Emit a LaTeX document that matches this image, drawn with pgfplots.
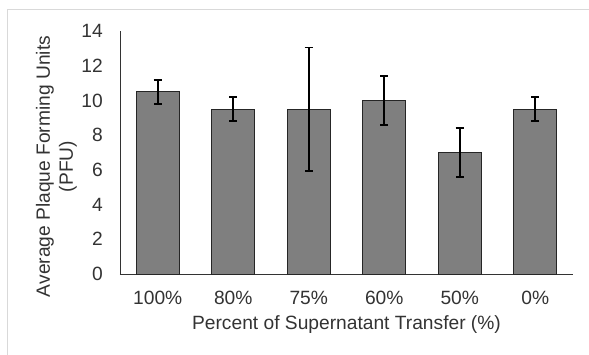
\documentclass[border=0pt]{standalone}
\usepackage{pgfplots}
\pgfplotsset{compat=1.18}
\usepackage{fontspec}
\setmainfont{Liberation Sans}
\definecolor{barfill}{HTML}{7F7F7F}
\definecolor{frame}{HTML}{D9D9D9}
\definecolor{txt}{HTML}{333333}
\begin{document}
\fontsize{19.2}{23}\selectfont
\begin{tikzpicture}
\useasboundingbox (-120pt,-80pt) rectangle (469pt,274pt);
\draw[frame, line width=1pt] (-112pt,-90pt) -- (-112pt,264pt) -- (480pt,264pt);
\begin{axis}[
  at={(0pt,0pt)}, anchor=south west,
  scale only axis, width=453pt, height=243pt,
  xmin=-0.5, xmax=5.5, ymin=0, ymax=14,
  axis lines*=left,
  axis line style={black!80, line width=0.9pt},
  major tick length=0pt,
  ytick={0,2,...,14},
  xtick={0,1,2,3,4,5},
  xticklabels={100\%,80\%,75\%,60\%,50\%,0\%},
  /pgf/number format/assume math mode=true,
  tick label style={font=\fontsize{19.2}{23}\selectfont, text=txt},
  yticklabel style={anchor=east, inner sep=0pt, xshift=-17pt},
  xticklabel style={anchor=north, inner sep=0pt, yshift=-17pt},
  xlabel={Percent of Supernatant Transfer (\%)},
  xlabel style={at={(axis description cs:0.5,0)}, anchor=center, yshift=-51pt, font=\fontsize{19.2}{23}\selectfont, text=txt},
  ylabel={Average Plaque Forming Units\\(PFU)},
  ylabel style={at={(axis description cs:-0.1402,0.4424)}, anchor=center, rotate=0, align=center, font=\fontsize{19.2}{23}\selectfont, text=txt},
  ybar, bar width=43pt,
  clip=false,
]
\addplot[fill=barfill, draw=black!85, line width=0.8pt,
  error bars/.cd, y dir=both, y explicit,
  error bar style={black, line width=1.8pt},
  error mark options={black, line width=1.8pt, mark size=4pt, rotate=90}]
  coordinates {
    (0,10.5) +- (0,0.7)
    (1,9.5) +- (0,0.7)
    (2,9.5) +- (0,3.55)
    (3,10) +- (0,1.42)
    (4,7) +- (0,1.42)
    (5,9.5) +- (0,0.7)
  };
\end{axis}
\end{tikzpicture}
\end{document}
